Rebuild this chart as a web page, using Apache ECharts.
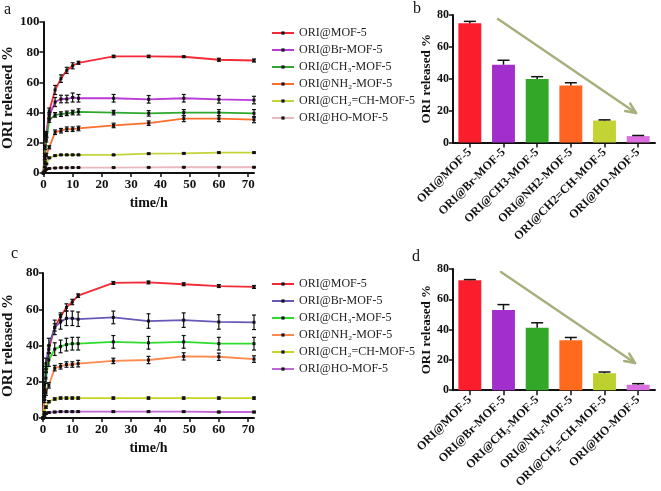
<!DOCTYPE html>
<html><head><meta charset="utf-8">
<script src="https://cdn.jsdelivr.net/npm/echarts@6/dist/echarts.min.js"></script>
<style>
html,body{margin:0;padding:0;background:#fff;}
#top{position:absolute;left:0;top:0;width:661px;height:245px;}
#bot{position:absolute;left:0;top:245px;width:661px;height:246px;}
</style></head>
<body>
<div id="top"></div><div id="bot"></div>
<script>
// ---------- data ----------
const times = [0, 0.5, 1, 2, 4, 6, 8, 10, 12, 24, 36, 48, 60, 72];
const lineNames = ['ORI@MOF-5', 'ORI@Br-MOF-5', 'ORI@CH₃-MOF-5', 'ORI@NH₂-MOF-5', 'ORI@CH₂=CH-MOF-5', 'ORI@HO-MOF-5'];

// panel a values
const aMOF5  = [0, 17, 26, 41, 55, 62.5, 68, 71, 73, 77.2, 77.2, 77, 75, 74.5];
const aBr    = [0, 12, 25, 38, 47, 49, 49, 50, 49.5, 49.5, 48.8, 49.5, 48.8, 48.3];
const aCH3   = [0, 10, 22, 35, 38.5, 39, 39.5, 40, 40.5, 40, 39.5, 40, 40, 39.5];
const aNH2   = [0, 7, 12, 17, 27, 28, 29, 29, 29.5, 31.5, 33, 36, 36, 35.3];
const aCH2CH = [0, 4, 6, 10, 11.5, 12, 12, 12, 12, 12, 12.8, 13, 13.5, 13.5];
const aHO    = [0, 1.5, 2.5, 3, 3.3, 3.5, 3.5, 3.6, 3.6, 3.6, 3.7, 3.8, 3.8, 3.8];
// panel a errors
const aMOF5Err  = [0, 1.5, 1.5, 2, 3, 2.5, 2, 2, 1, 0.8, 0.8, 0.5, 1, 1];
const aBrErr    = [0, 1, 1.5, 2, 3, 2.5, 2.5, 3, 2.5, 2.5, 2.5, 2.5, 2.5, 2.5];
const aCH3Err   = [0, 1, 1.5, 1.5, 1.5, 1.5, 1.5, 1.5, 2, 1.5, 1.8, 2, 2, 2.5];
const aNH2Err   = [0, 1, 1, 1, 1.5, 1.5, 1.5, 1.5, 1.5, 1.5, 1.5, 2, 2, 2];
const aCH2CHErr = [0, 0.4, 0.4, 0.4, 0.4, 0.4, 0.4, 0.4, 0.4, 0.4, 0.4, 0.4, 0.4, 0.4];
const aHOErr    = [0, 0.3, 0.3, 0.3, 0.3, 0.3, 0.3, 0.3, 0.3, 0.3, 0.3, 0.3, 0.3, 0.3];

// panel c values
const cMOF5  = [0, 15, 27, 38, 50, 56, 61, 64, 67.5, 74.5, 74.8, 73.8, 72.8, 72.3];
const cBr    = [0, 18, 30, 40, 50, 53, 55, 55, 54.5, 55.5, 53.5, 54, 53, 52.8];
const cCH3   = [0, 12, 22, 32, 38, 39.5, 40.5, 41, 41, 42, 41.5, 42, 41, 41];
const cNH2   = [0, 10, 14, 18, 27.5, 28.5, 29.5, 29.5, 30, 31.5, 32, 34, 33.8, 32.5];
const cCH2CH = [0, 3, 6, 9, 10.5, 11, 11, 11, 11, 11, 11, 11, 11, 11];
const cHO    = [0, 1.5, 2.5, 3, 3.3, 3.5, 3.5, 3.5, 3.5, 3.5, 3.5, 3.5, 3.3, 3.3];
// panel c errors
const cMOF5Err  = [0, 1.5, 1.5, 2, 2, 2, 2, 1.5, 1, 0.8, 0.8, 0.8, 0.8, 0.8];
const cBrErr    = [0, 2, 3, 4, 4, 4, 4, 4, 4, 3.5, 4, 4, 4, 4];
const cCH3Err   = [0, 2, 3, 3.5, 3.5, 3.5, 3.5, 3.5, 3.5, 3.5, 3.5, 3.5, 3.5, 3.5];
const cNH2Err   = [0, 1.5, 1.5, 1.5, 1.5, 1.5, 1.5, 1.5, 1.8, 1.5, 2, 2, 2, 1.8];
const cCH2CHErr = [0, 0.6, 0.6, 0.6, 0.6, 0.6, 0.6, 0.6, 0.6, 0.6, 0.6, 0.6, 0.6, 0.6];
const cHOErr    = [0, 0.4, 0.4, 0.4, 0.4, 0.4, 0.4, 0.4, 0.4, 0.4, 0.4, 0.4, 0.4, 0.4];

// panel b (bars)
const bCategories = ['ORI@MOF-5', 'ORI@Br-MOF-5', 'ORI@CH3-MOF-5', 'ORI@NH2-MOF-5', 'ORI@CH2=CH-MOF-5', 'ORI@HO-MOF-5'];
const bValues = [74.8, 48.8, 39.8, 35.8, 13.8, 4.0];
const bErrors = [1.2, 2.8, 1.5, 1.7, 0.4, 0.4];
// panel d (bars)
const dCategories = ['ORI@MOF-5', 'ORI@Br-MOF-5', 'ORI@CH₃-MOF-5', 'ORI@NH₂-MOF-5', 'ORI@CH₂=CH-MOF-5', 'ORI@HO-MOF-5'];
const dValues = [72.5, 53.0, 41.3, 33.0, 11.2, 3.6];
const dErrors = [0.5, 3.5, 3.2, 1.8, 0.8, 0.7];

// ---------- styles ----------
const colorsA = ['#f42a36', '#b93ad6', '#2ea82e', '#ff6d2a', '#c3d33a', '#e9b8bc'];
const colorsC = ['#f42a36', '#6a58b8', '#2edc2e', '#ff8a4f', '#c8d420', '#c266d6'];
const barColorsB = ['#fb1c2c', '#a22fcb', '#33a828', '#ff6422', '#c2d333', '#dc6ee0'];
const barColorsD = ['#fb1c2c', '#a22fcb', '#33a828', '#ff6a1c', '#bdd12e', '#d96fe0'];
const SERIF = '"Liberation Serif", "DejaVu Serif", serif';
const INK = '#111';

function lineAxes(gridIndex, yMax, nameGapY, nameGapX) {
  const x = {
    type: 'value', gridIndex, min: 0, max: 72, interval: 10,
    name: 'time/h', nameLocation: 'middle', nameGap: nameGapX,
    nameTextStyle: { fontFamily: SERIF, fontWeight: 'bold', fontSize: 14, color: INK },
    axisLine: { show: true, onZero: false, lineStyle: { color: INK, width: 2 } },
    axisTick: { show: true, length: 4, lineStyle: { color: INK, width: 1.5 } },
    axisLabel: { fontFamily: SERIF, fontWeight: 'bold', fontSize: 13, color: INK, margin: 5, showMaxLabel: false },
    splitLine: { show: false }
  };
  const y = {
    type: 'value', gridIndex, min: 0, max: yMax, interval: 20,
    name: 'ORI released %', nameLocation: 'middle', nameGap: nameGapY,
    nameTextStyle: { fontFamily: SERIF, fontWeight: 'bold', fontSize: 15, color: INK },
    axisLine: { show: true, lineStyle: { color: INK, width: 2 } },
    axisTick: { show: true, length: 4, lineStyle: { color: INK, width: 1.5 } },
    axisLabel: { fontFamily: SERIF, fontWeight: 'bold', fontSize: 13, color: INK, margin: 4 },
    splitLine: { show: false }
  };
  return { x, y };
}

function barAxes(gridIndex, cats, nameGapY) {
  const x = {
    type: 'category', gridIndex, data: cats,
    axisLine: { show: true, lineStyle: { color: INK, width: 2 } },
    axisTick: { show: true, alignWithLabel: true, length: 5, lineStyle: { color: INK, width: 1.5 } },
    axisLabel: { fontFamily: SERIF, fontWeight: 'bold', fontSize: 12, color: INK, rotate: 45, margin: 8, interval: 0 },
    splitLine: { show: false }
  };
  const y = {
    type: 'value', gridIndex, min: 0, max: 80, interval: 20,
    name: 'ORI released %', nameLocation: 'middle', nameGap: nameGapY,
    nameTextStyle: { fontFamily: SERIF, fontWeight: 'bold', fontSize: 13, color: INK },
    axisLine: { show: true, lineStyle: { color: INK, width: 2 } },
    axisTick: { show: true, length: 4, lineStyle: { color: INK, width: 1.5 } },
    axisLabel: { fontFamily: SERIF, fontWeight: 'bold', fontSize: 12, color: INK, margin: 4 },
    splitLine: { show: false }
  };
  return { x, y };
}

function lineSeries(prefix, axisIdx, valueSets, errSets, colors) {
  const out = [];
  valueSets.forEach((vals, i) => {
    out.push({
      type: 'line', name: prefix + lineNames[i], xAxisIndex: axisIdx, yAxisIndex: axisIdx,
      data: times.map((t, k) => [t, vals[k]]),
      symbol: 'rect', symbolSize: 3, showSymbol: true,
      itemStyle: { color: INK },
      lineStyle: { color: colors[i], width: 1.8 },
      z: 3, animation: false
    });
    out.push({
      type: 'custom', xAxisIndex: axisIdx, yAxisIndex: axisIdx,
      data: times.map((t, k) => [t, vals[k], errSets[i][k]]),
      renderItem: function (params, api) {
        const xv = api.value(0), yv = api.value(1), e = api.value(2);
        if (!e) return null;
        const top = api.coord([xv, yv + e]);
        const bot = api.coord([xv, yv - e]);
        const w = 2;
        const st = { stroke: INK, lineWidth: 1.2 };
        return { type: 'group', children: [
          { type: 'line', shape: { x1: top[0], y1: top[1], x2: bot[0], y2: bot[1] }, style: st },
          { type: 'line', shape: { x1: top[0] - w, y1: top[1], x2: top[0] + w, y2: top[1] }, style: st },
          { type: 'line', shape: { x1: bot[0] - w, y1: bot[1], x2: bot[0] + w, y2: bot[1] }, style: st }
        ] };
      },
      z: 4, silent: true, animation: false
    });
  });
  return out;
}

function barSeries(axisIdx, cats, vals, errs, colors) {
  return [
    {
      type: 'bar', xAxisIndex: axisIdx, yAxisIndex: axisIdx, barWidth: '68%',
      data: vals.map((v, i) => ({ value: v, itemStyle: { color: colors[i] } })),
      animation: false
    },
    {
      type: 'custom', xAxisIndex: axisIdx, yAxisIndex: axisIdx,
      data: vals.map((v, i) => [i, v, errs[i]]),
      renderItem: function (params, api) {
        const c = api.value(0), v = api.value(1), e = api.value(2);
        const p0 = api.coord([c, v]);
        const p1 = api.coord([c, v + e]);
        const w = 6;
        const st = { stroke: INK, lineWidth: 1.5 };
        return { type: 'group', children: [
          { type: 'line', shape: { x1: p0[0], y1: p0[1], x2: p1[0], y2: p1[1] }, style: st },
          { type: 'line', shape: { x1: p1[0] - w, y1: p1[1], x2: p1[0] + w, y2: p1[1] }, style: st }
        ] };
      },
      z: 4, silent: true, animation: false
    }
  ];
}

function arrow(x1, y1, x2, y2) {
  const ang = Math.atan2(y2 - y1, x2 - x1);
  const L = 11, spread = 0.42;
  const a1 = [x2 - L * Math.cos(ang - spread), y2 - L * Math.sin(ang - spread)];
  const a2 = [x2 - L * Math.cos(ang + spread), y2 - L * Math.sin(ang + spread)];
  const st = { stroke: '#a7b07c', lineWidth: 2.5, lineCap: 'round', lineJoin: 'round', fill: null };
  return [
    { type: 'line', shape: { x1, y1, x2, y2 }, style: st, z: 10 },
    { type: 'polyline', shape: { points: [a1, [x2, y2], a2] }, style: st, z: 10 }
  ];
}

function panelLabel(txt, x, y) {
  return { type: 'text', left: x, top: y, style: { text: txt, font: '16px ' + SERIF, fill: INK } };
}

function legendFor(prefix, top) {
  return {
    orient: 'vertical', left: 266, top: top, itemGap: 3, itemWidth: 22, itemHeight: 4,
    data: lineNames.map(n => prefix + n),
    formatter: n => n.slice(prefix.length),
    textStyle: { fontFamily: SERIF, fontSize: 12, lineHeight: 14, color: '#222' },
    selectedMode: false
  };
}

// ---------- top chart (a, b) ----------
const aAx = lineAxes(0, 100, 27, 16);
const bAx = barAxes(1, bCategories, 20);
const topChart = echarts.init(document.getElementById('top'), null, { renderer: 'canvas' });
topChart.setOption({
  backgroundColor: '#fff',
  animation: false,
  grid: [
    { left: 39, top: 22, width: 215, height: 151 },
    { left: 453, top: 15, width: 202, height: 137 }
  ],
  xAxis: [aAx.x, bAx.x],
  yAxis: [aAx.y, bAx.y],
  legend: legendFor('a:', 21),
  series: [].concat(
    lineSeries('a:', 0, [aMOF5, aBr, aCH3, aNH2, aCH2CH, aHO],
      [aMOF5Err, aBrErr, aCH3Err, aNH2Err, aCH2CHErr, aHOErr], colorsA),
    barSeries(1, bCategories, bValues, bErrors, barColorsB)
  ),
  graphic: [panelLabel('a', 4, 2), panelLabel('b', 413, 1)].concat(arrow(498, 19, 636, 113))
});

// ---------- bottom chart (c, d) ----------
const cAx = lineAxes(0, 80, 27, 20);
const dAx = barAxes(1, dCategories, 20);
const botChart = echarts.init(document.getElementById('bot'), null, { renderer: 'canvas' });
botChart.setOption({
  backgroundColor: '#fff',
  animation: false,
  grid: [
    { left: 39, top: 28, width: 215, height: 145 },
    { left: 453, top: 24, width: 202, height: 134 }
  ],
  xAxis: [cAx.x, dAx.x],
  yAxis: [cAx.y, dAx.y],
  legend: legendFor('c:', 27),
  series: [].concat(
    lineSeries('c:', 0, [cMOF5, cBr, cCH3, cNH2, cCH2CH, cHO],
      [cMOF5Err, cBrErr, cCH3Err, cNH2Err, cCH2CHErr, cHOErr], colorsC),
    barSeries(1, dCategories, dValues, dErrors, barColorsD)
  ),
  graphic: [panelLabel('c', 11, 1), panelLabel('d', 412, 4)].concat(arrow(501, 27, 635, 118))
});
</script>
</body></html>
